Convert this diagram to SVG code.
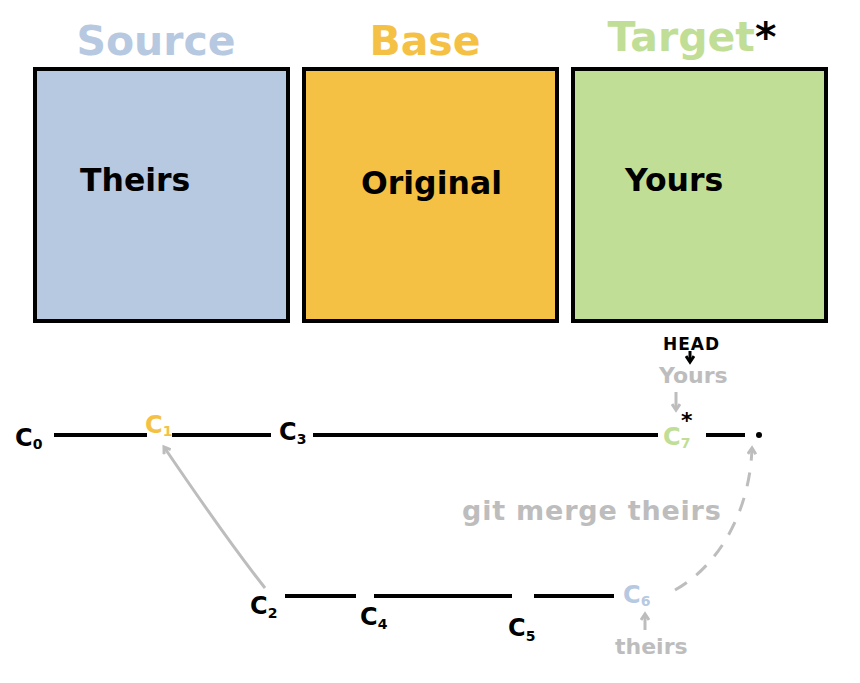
<svg xmlns="http://www.w3.org/2000/svg" width="860" height="683" viewBox="0 0 860 683">
<style>
.box{stroke:#000;stroke-width:4}
.title{font-family:"DejaVu Sans",sans-serif;font-weight:bold;font-size:41px;text-anchor:middle}
.inner{font-family:"DejaVu Sans",sans-serif;font-weight:bold;font-size:31.5px;fill:#000}
.hand{font-family:"DejaVu Sans",sans-serif;font-weight:bold}
.cl{font-size:24px}
.sub{font-size:14px}
.line{stroke:#000;stroke-width:4;fill:none}
.gray{fill:#bdbdbd}
.garr{stroke:#bdbdbd;stroke-width:3;fill:none}
</style>
<defs>
<marker id="ga" markerWidth="10" markerHeight="10" refX="7" refY="5" orient="auto" markerUnits="userSpaceOnUse">
<path d="M1,1 L7,5 L1,9" fill="none" stroke="#bdbdbd" stroke-width="3"/>
</marker>
<marker id="ba" markerWidth="10" markerHeight="10" refX="7" refY="5" orient="auto" markerUnits="userSpaceOnUse">
<path d="M1,1 L7,5 L1,9" fill="none" stroke="#000" stroke-width="3"/>
</marker>
</defs>
<rect width="860" height="683" fill="#fff"/>
<g id="source">
<text class="title" x="156" y="55" fill="#b6c9e1">Source</text>
<rect class="box" x="35" y="69" width="253" height="252" fill="#b6c9e1"/>
<text class="inner" x="80" y="191">Theirs</text>
</g>
<g id="base">
<text class="title" x="425" y="55" fill="#f5c144">Base</text>
<rect class="box" x="304" y="69" width="253" height="252" fill="#f5c144"/>
<text class="inner" x="361" y="194">Original</text>
</g>
<g id="target">
<text class="title" x="692" y="51" fill="#c1de96">Target<tspan fill="#000">*</tspan></text>
<rect class="box" x="573" y="69" width="253" height="252" fill="#c1de96"/>
<text class="inner" x="625" y="191">Yours</text>
</g>
<g id="connectors">
<path class="line" d="M54,435 H147 M172,435 H271 M313,435 H658 M706,435 H745"/>
<circle cx="759" cy="435" r="3" fill="#000"/>
<path class="line" d="M285,596 H356 M374,596 H512 M534,596 H614"/>
<path class="garr" d="M265,588 C235,550 200,500 164,447" marker-end="url(#ga)"/>
<path class="garr" stroke-dasharray="14,12" d="M675,590 C720,565 750,510 752,448" marker-end="url(#ga)"/>
<path class="garr" d="M645,630 V614" marker-end="url(#ga)"/>
<path class="garr" d="M676,392 V410" marker-end="url(#ga)"/>
<path d="M690,351 V362" stroke="#000" stroke-width="3" fill="none" marker-end="url(#ba)"/>
</g>
<g id="c0"><text class="hand cl" x="15" y="446">C<tspan class="sub" dy="3">0</tspan></text></g>
<g id="c1"><text class="hand cl" x="145" y="433" fill="#f5c144">C<tspan class="sub" dy="3">1</tspan></text></g>
<g id="c3"><text class="hand cl" x="279" y="440">C<tspan class="sub" dy="4">3</tspan></text></g>
<g id="c7"><text class="hand cl" x="663" y="445" fill="#c1de96">C<tspan class="sub" dy="3">7</tspan></text><text class="hand" x="681" y="428" font-size="22">*</text></g>
<g id="c2"><text class="hand cl" x="250" y="614">C<tspan class="sub" dy="4">2</tspan></text></g>
<g id="c4"><text class="hand cl" x="360" y="625">C<tspan class="sub" dy="4">4</tspan></text></g>
<g id="c5"><text class="hand cl" x="508" y="636">C<tspan class="sub" dy="5">5</tspan></text></g>
<g id="c6"><text class="hand cl" x="623" y="603" fill="#b6c9e1">C<tspan class="sub" dy="3">6</tspan></text></g>
<g id="labels">
<text class="hand" x="663" y="350" font-size="17" letter-spacing="1">HEAD</text>
<text class="hand gray" x="659" y="383" font-size="22">Yours</text>
<text class="hand gray" x="462" y="520" font-size="27" letter-spacing="0.8">git merge theirs</text>
<text class="hand gray" x="615" y="654" font-size="22">theirs</text>
</g>
</svg>
